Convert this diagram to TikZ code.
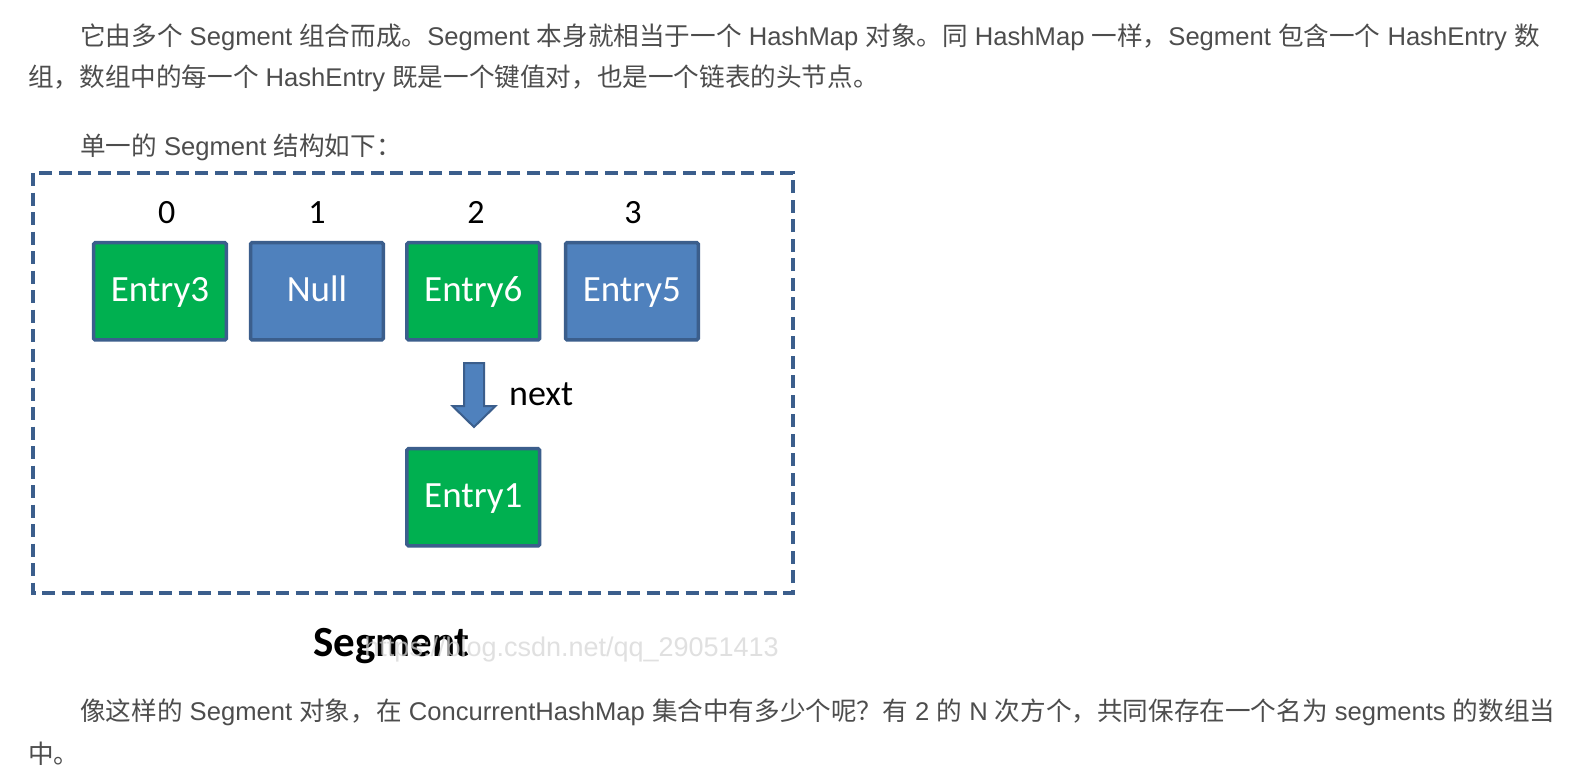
\documentclass[tikz,border=0pt]{standalone}
\usepackage{fontspec}
\setmainfont{Liberation Sans}
\newfontfamily\cjk{Noto Sans CJK SC}
\newfontfamily\calib{Carlito}
\newcommand\zh[1]{{\cjk#1}}
\definecolor{txt}{HTML}{4D4D4D}
\definecolor{grn}{HTML}{00B050}
\definecolor{blu}{HTML}{4F81BD}
\definecolor{edge}{HTML}{3B5E8C}
\definecolor{wm}{HTML}{D6D6D6}
\begin{document}
\begin{tikzpicture}[x=1pt,y=-1pt,
  para/.style={anchor=base west,inner sep=0,text=txt,font=\fontsize{25.6}{25.6}\selectfont},
  cell/.style={draw=edge,line width=3.5pt,rounded corners=1.5pt,minimum width=132.8pt,minimum height=97.2pt,inner sep=0,text=white,text height=26pt,text depth=5.2pt,font=\calib\fontsize{37}{37}\selectfont},
  gcell/.style={cell,fill=grn},
  bcell/.style={cell,fill=blu},
  idx/.style={font=\calib\fontsize{34}{34}\selectfont,inner sep=0,anchor=base,text=black},
  frame/.style={draw=edge,line width=4pt,dash pattern=on 13pt off 6.5pt}]
\useasboundingbox (0,0) rectangle (1593,776);
\fill[white] (0,0) rectangle (1593,776);
% paragraph text
\node[para] (l1) at (80,46) {\zh{它由多个} Segment \zh{组合而成。}Segment \zh{本身就相当于一个} HashMap \zh{对象。同} HashMap \zh{一样，}Segment \zh{包含一个} HashEntry \zh{数}};
\node[para] (l2) at (28,86.5) {\zh{组，数组中的每一个} HashEntry \zh{既是一个键值对，也是一个链表的头节点。}};
\node[para] (l3) at (80,155) {\zh{单一的} Segment \zh{结构如下：}};
\node[para] (b1) at (80,720) {\zh{像这样的} Segment \zh{对象，在} ConcurrentHashMap \zh{集合中有多少个呢？有} 2 \zh{的} N \zh{次方个，共同保存在一个名为} segments \zh{的数组当}};
\node[para] (b2) at (28,763) {\zh{中。}};
% frame
\draw[frame] (33,173) rectangle (792.6,593);
% cells
\node[gcell] (e3) at (160,291.3) {Entry3};
\node[bcell] (nl) at (316.9,291.3) {Null};
\node[gcell] (e6) at (473.3,291.3) {Entry6};
\node[bcell] (e5) at (631.9,291.3) {Entry5};
\node[gcell] (e1) at (473.3,497.3) {Entry1};
% indices
\node[idx] (i0) at (166.8,223) {0};
\node[idx] (i1) at (317,223) {1};
\node[idx] (i2) at (476,223) {2};
\node[idx] (i3) at (633,223) {3};
% next arrow
\draw[draw=edge,fill=blu,line width=2pt,line join=miter] (464,363) -- (484,363) -- (484,406) -- (495.5,406) -- (474,427) -- (452.5,406) -- (464,406) -- cycle;
\node[anchor=base west,inner sep=0,font=\calib\fontsize{36}{36}\selectfont] (nx) at (509,405) {next};
% caption
\node[anchor=base west,inner sep=0,font=\calib\bfseries\fontsize{43}{43}\selectfont] (cap) at (313,656.7) {Segment};
\node[anchor=base east,inner sep=0,text=wm,text opacity=0.75,font=\fontsize{27}{27}\selectfont] (wmk) at (779,656.7) {https://blog.csdn.net/qq\_29051413};
\end{tikzpicture}
\end{document}
